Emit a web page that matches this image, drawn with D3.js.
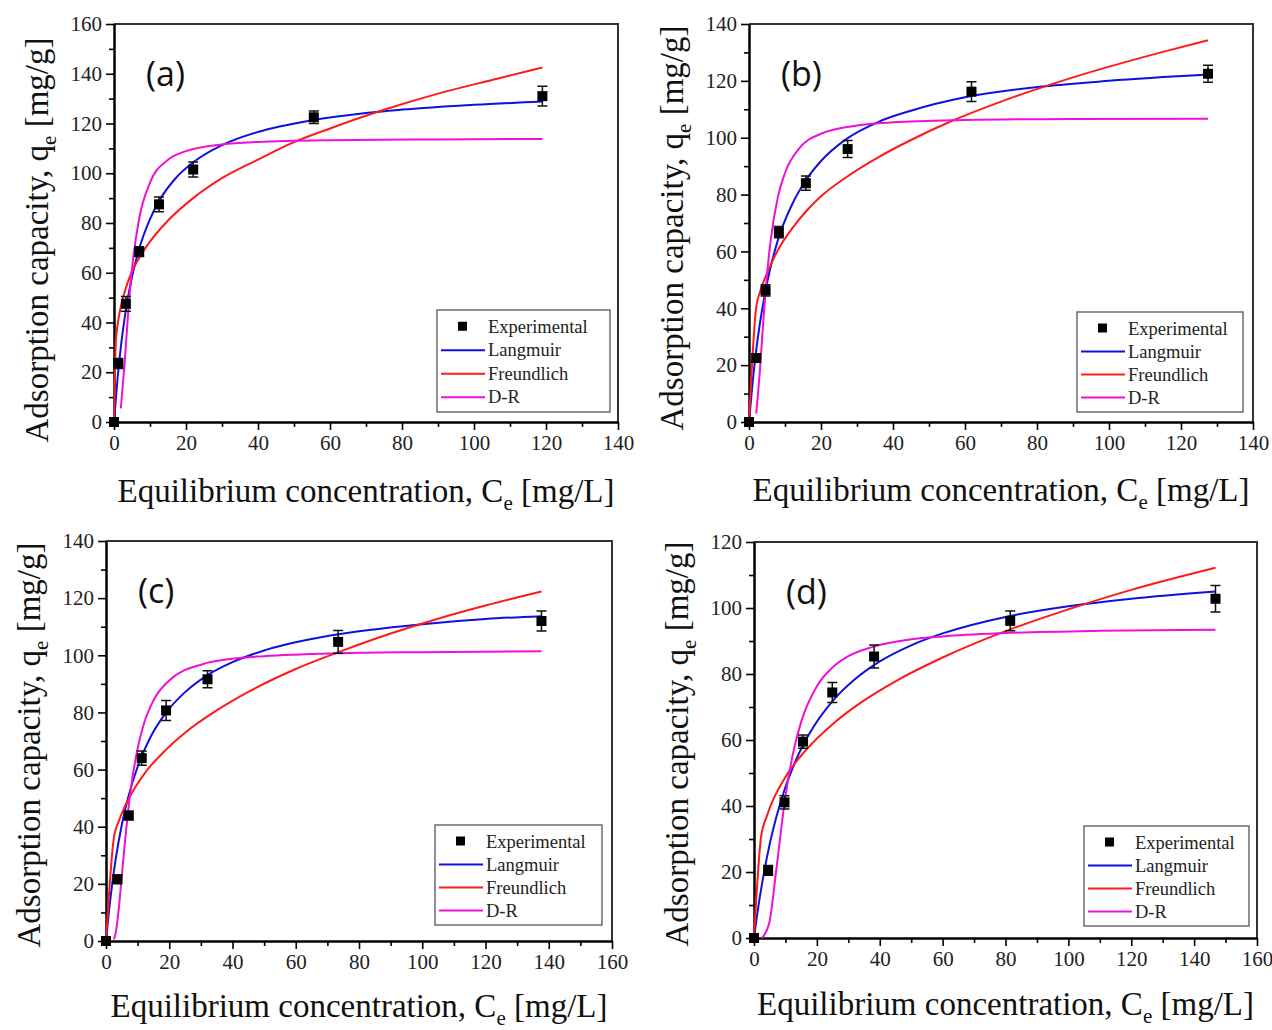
<!DOCTYPE html>
<html>
<head>
<meta charset="utf-8">
<script src="https://cdn.jsdelivr.net/npm/d3@7/dist/d3.min.js"></script>
<style>
  body { margin: 0; background: #fff; }
  svg { display: block; }
</style>
</head>
<body>
<svg id="chart" width="1272" height="1030"></svg>
<script>
// ---- data ----
var panelNames = ['(a)', '(b)', '(c)', '(d)'];
var xMaxes = [140, 140, 160, 160];
var yMaxes = [160, 140, 140, 120];
var seriesNames = ['Experimental', 'Langmuir', 'Freundlich', 'D-R'];

// experimental points [Ce, qe] and error bar half-heights
var expA = [[0, 0], [1.2, 23.5], [3.3, 47.5], [7, 68.5], [12.5, 87.5], [22, 101.5], [55.5, 122.5], [119, 131]];
var errA = [0, 2, 3, 2, 3, 3, 2.5, 4];
var expB = [[0, 0], [2, 22.5], [4.6, 46.3], [8.3, 66.8], [15.8, 84], [27.4, 96], [61.8, 116.2], [127.5, 122.5]];
var errB = [0, 1.5, 2, 2, 2.5, 3, 3.5, 3];
var expC = [[0, 0], [3.6, 21.6], [7.2, 43.9], [11.3, 64], [19, 80.7], [32.1, 91.6], [73.4, 104.7], [137.7, 112]];
var errC = [0, 1.5, 1.5, 2.5, 3.5, 3, 4, 3.5];
var expD = [[0, 0], [4.5, 20.5], [9.7, 41.1], [15.6, 59.5], [24.9, 74.4], [38.2, 85.3], [81.5, 96.1], [146.8, 102.8]];
var errD = [0, 1.5, 2, 2, 3, 3.5, 3, 4];

// fitted curves [Ce, qe]
var langA = [[0, 0], [1, 17.7], [2, 31.4], [3, 42.3], [5, 58.3], [7, 69.7], [10, 81.6], [13, 90], [17, 97.8], [22, 104.4], [30, 111.3], [40, 116.6], [55, 121.3], [70, 124.2], [85, 126.1], [100, 127.5], [119, 128.8]];
var freA = [[0, 0], [0.5, 32], [1, 39], [2, 47], [3, 52.5], [5, 60.5], [7, 66], [10, 72.5], [15, 81], [22, 90], [30, 98], [40, 105.5], [50, 112.5], [60, 118], [75, 125.5], [90, 132], [105, 137.5], [119, 142.5]];
var drA = [[1.9, 5.5], [3, 24.6], [4, 45.3], [5, 61.5], [7, 81.8], [10, 96.2], [15, 105.4], [20, 108.9], [30, 111.6], [40, 112.6], [60, 113.3], [90, 113.6], [119, 113.8]];

var langB = [[0, 0], [1, 13.9], [2, 25.2], [3, 34.4], [5, 48.8], [8, 63.9], [12, 76.6], [16, 85.4], [20, 91.8], [27, 99.5], [36, 105.6], [45, 109.5], [60, 114.2], [80, 117.8], [100, 120], [127.5, 122.2]];
var freB = [[0, 0], [2, 40.4], [3, 45.5], [5, 52.3], [8, 60.4], [12, 68.1], [16, 74.3], [20, 79.4], [27, 86.1], [36, 93.2], [45, 99.2], [56, 105.7], [70, 112.7], [85, 119.2], [100, 125], [115, 130.2], [127.5, 134.3]];
var drB = [[2, 3], [3, 17.6], [4, 36], [5, 51.8], [6, 63.6], [8, 79], [10, 87.6], [14, 96.3], [20, 101.4], [30, 104.3], [40, 105.4], [60, 106.2], [90, 106.6], [127.5, 106.7]];

var langC = [[0, 0], [1, 11.1], [2, 20.3], [3, 28.2], [5, 40.7], [7, 50.2], [10, 61], [14, 71.2], [19, 79.9], [25, 87.1], [32, 93], [40, 97.6], [50, 101.7], [65, 105.7], [80, 108.4], [100, 110.9], [120, 112.7], [137.7, 113.7]];
var freC = [[0, 0], [2.5, 36.2], [4, 41.8], [6, 47.2], [9, 53.4], [13, 59.8], [18, 65.9], [25, 72.9], [35, 80.7], [45, 87.2], [60, 95.2], [75, 101.7], [90, 107.6], [105, 112.8], [120, 117.4], [137.7, 122.3]];
var drC = [[2.5, 0.6], [3, 2.4], [4, 10.8], [5, 22.8], [6, 34.8], [7, 45.5], [8, 54.4], [10, 67.4], [12, 76.1], [15, 84.2], [20, 91.2], [30, 96.7], [40, 98.8], [50, 99.7], [73, 100.7], [100, 101.1], [137.7, 101.4]];

var langD = [[0, 0], [1, 7.1], [2, 13.3], [3, 18.9], [5, 28.5], [7, 36.3], [10, 45.7], [14, 55.3], [19, 64.1], [25, 71.8], [32, 78.3], [40, 83.8], [50, 88.7], [60, 92.3], [80, 97.3], [100, 100.5], [120, 102.8], [146.8, 105]];
var freD = [[0, 0], [2.3, 31], [4, 36.7], [6, 41.7], [9, 47.2], [13, 52.9], [18, 58.5], [25, 64.8], [35, 72], [45, 77.8], [60, 85], [80, 93], [100, 99.6], [120, 105.5], [146.8, 112.2]];
var drD = [[2.5, 0], [4.9, 4.8], [7, 20], [10, 42.9], [13, 58.4], [15, 65.5], [20, 76.3], [25, 82], [30, 85.4], [38, 88.3], [50, 90.5], [60, 91.4], [80, 92.4], [110, 93.1], [146.8, 93.4]];

// ---- layout (pixel boxes of each panel) ----
var boxes = [
    { left: 114, right: 618, top: 24, bottom: 422, titleShift: 17, xTitleY: 502, legend: { x: 437, y: 310, w: 173, h: 102 } },
    { left: 749, right: 1253, top: 24, bottom: 422, titleShift: 5, xTitleY: 501, legend: { x: 1077, y: 312, w: 166, h: 100 } },
    { left: 106, right: 612, top: 541, bottom: 941, titleShift: 4, xTitleY: 1017, legend: { x: 435, y: 825, w: 167, h: 100 } },
    { left: 754, right: 1257, top: 542, bottom: 938, titleShift: 4, xTitleY: 1015, legend: { x: 1084, y: 826, w: 165, h: 100 } }
];

var panels = [
    { exp: expA, err: errA, curves: [langA, freA, drA] },
    { exp: expB, err: errB, curves: [langB, freB, drB] },
    { exp: expC, err: errC, curves: [langC, freC, drC] },
    { exp: expD, err: errD, curves: [langD, freD, drD] }
];

var curveColors = ['#1010e0', '#ff1a1a', '#ee10d8'];
var serif = '"Liberation Serif", "Times New Roman", serif';

var svg = d3.select('#chart');

panels.forEach(function (p, i) {
    var b = boxes[i];
    var g = svg.append('g');

    var x = d3.scaleLinear().domain([0, xMaxes[i]]).range([b.left, b.right]);
    var y = d3.scaleLinear().domain([0, yMaxes[i]]).range([b.bottom, b.top]);

    // frame top / right
    g.append('path')
        .attr('d', 'M' + b.left + ',' + b.top + 'H' + b.right + 'V' + b.bottom)
        .attr('fill', 'none').attr('stroke', '#333').attr('stroke-width', 2);

    // minor ticks first
    g.append('g').attr('transform', 'translate(0,' + b.bottom + ')')
        .call(d3.axisBottom(x).tickValues(d3.range(10, xMaxes[i], 20)).tickSize(5).tickSizeOuter(0).tickFormat(''));
    g.append('g').attr('transform', 'translate(' + b.left + ',0)')
        .call(d3.axisLeft(y).tickValues(d3.range(10, yMaxes[i], 20)).tickSize(5).tickSizeOuter(0).tickFormat(''));

    // major ticks with labels
    var xa = g.append('g').attr('transform', 'translate(0,' + b.bottom + ')')
        .call(d3.axisBottom(x).tickValues(d3.range(0, xMaxes[i] + 1, 20)).tickSize(8).tickSizeOuter(0).tickPadding(5));
    var ya = g.append('g').attr('transform', 'translate(' + b.left + ',0)')
        .call(d3.axisLeft(y).tickValues(d3.range(0, yMaxes[i] + 1, 20)).tickSize(8).tickSizeOuter(0).tickPadding(4));

    g.selectAll('.domain').attr('stroke', '#000').attr('stroke-width', 2);
    g.selectAll('.tick line').attr('stroke', '#000').attr('stroke-width', 1.6);
    [xa, ya].forEach(function (a) {
        a.selectAll('text').attr('font-family', serif).attr('font-size', 21).attr('fill', '#222');
    });

    // fitted curves
    var line = d3.line()
        .x(function (d) { return x(d[0]); })
        .y(function (d) { return y(d[1]); })
        .curve(d3.curveMonotoneX);

    p.curves.forEach(function (c, k) {
        g.append('path')
            .datum(c)
            .attr('d', line)
            .attr('fill', 'none')
            .attr('stroke', curveColors[k])
            .attr('stroke-width', 2);
    });

    // experimental points with error bars
    var pts = g.selectAll('.pt').data(p.exp).enter().append('g').attr('class', 'pt');
    pts.each(function (d, j) {
        var e = p.err[j];
        var s = d3.select(this);
        if (e > 0) {
            var cx = x(d[0]), y1 = y(d[1] + e), y2 = y(d[1] - e);
            s.append('path')
                .attr('d', 'M' + cx + ',' + y1 + 'V' + y2 + 'M' + (cx - 5) + ',' + y1 + 'H' + (cx + 5) + 'M' + (cx - 5) + ',' + y2 + 'H' + (cx + 5))
                .attr('stroke', '#111').attr('stroke-width', 1.5).attr('fill', 'none');
        }
        s.append('rect')
            .attr('x', x(d[0]) - 5).attr('y', y(d[1]) - 5)
            .attr('width', 10).attr('height', 10)
            .attr('fill', '#000');
    });

    // panel label
    g.append('text')
        .attr('x', b.left + 32).attr('y', b.top + 62)
        .attr('font-family', '"Open Sans", "Liberation Sans", sans-serif')
        .attr('font-size', 34).attr('fill', '#111')
        .text(panelNames[i]);

    // axis titles
    var xt = g.append('text')
        .attr('x', (b.left + b.right) / 2).attr('y', b.xTitleY)
        .attr('text-anchor', 'middle')
        .attr('font-family', serif).attr('font-size', 33).attr('fill', '#111');
    xt.append('tspan').text('Equilibrium concentration, C');
    xt.append('tspan').attr('font-size', 21).attr('dy', 8).text('e');
    xt.append('tspan').attr('dy', -8).text(' [mg/L]');

    var yc = (b.top + b.bottom) / 2 + b.titleShift;
    var yt = g.append('text')
        .attr('transform', 'translate(' + (b.left - 66) + ',' + yc + ') rotate(-90)')
        .attr('text-anchor', 'middle')
        .attr('font-family', serif).attr('font-size', 33).attr('fill', '#111');
    yt.append('tspan').text('Adsorption capacity, q');
    yt.append('tspan').attr('font-size', 21).attr('dy', 8).text('e');
    yt.append('tspan').attr('dy', -8).text(' [mg/g]');

    // legend
    var L = b.legend;
    var lg = g.append('g').attr('transform', 'translate(' + L.x + ',' + L.y + ')');
    lg.append('rect')
        .attr('width', L.w).attr('height', L.h)
        .attr('fill', '#fff').attr('stroke', '#555').attr('stroke-width', 1.3);
    var rowH = (L.h - 8) / 4;
    seriesNames.forEach(function (name, k) {
        var ry = 4 + rowH * (k + 0.5) + 1;
        if (k === 0) {
            lg.append('rect').attr('x', 21).attr('y', ry - 5).attr('width', 9).attr('height', 9).attr('fill', '#000');
        } else {
            lg.append('line')
                .attr('x1', 4).attr('x2', 48).attr('y1', ry).attr('y2', ry)
                .attr('stroke', curveColors[k - 1]).attr('stroke-width', 2);
        }
        lg.append('text')
            .attr('x', 51).attr('y', ry + 6)
            .attr('font-family', serif).attr('font-size', 18.5).attr('fill', '#222')
            .text(name);
    });
});
</script>
</body>
</html>
